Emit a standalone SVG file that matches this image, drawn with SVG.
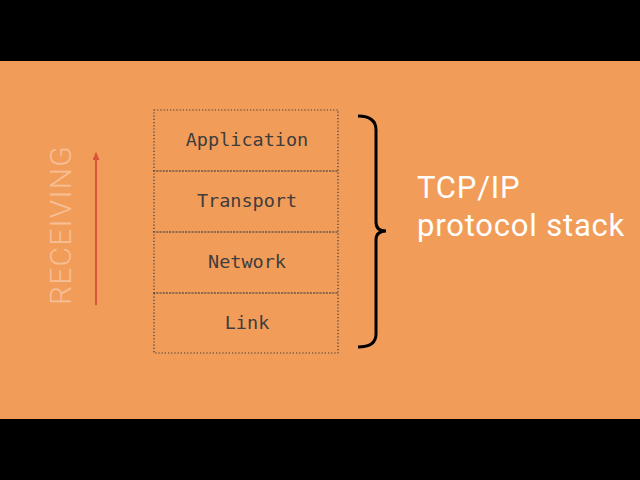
<svg xmlns="http://www.w3.org/2000/svg" width="640" height="480" viewBox="0 0 640 480">
<style>
.box{fill:none;stroke:#3a3a3a;stroke-width:1.2;stroke-dasharray:1.2 2}
.lbl{font-family:"DejaVu Sans Mono",monospace;font-size:18.5px;font-weight:500;fill:#3d3d3d;text-anchor:middle}
.big{font-family:Roboto,"Liberation Sans",sans-serif;font-size:31px;fill:#fff;letter-spacing:0.8px}
</style>
<defs><marker id="ah" markerWidth="8" markerHeight="8" refX="7" refY="3.5" orient="auto" markerUnits="userSpaceOnUse"><path d="M0,0 L8,3.5 L0,7 Z" fill="#d9553a"/></marker></defs>
<rect width="640" height="480" fill="#000"/>
<rect y="61" width="640" height="358" fill="#f29c5a"/>
<g id="application"><rect class="box" x="154" y="110" width="184" height="61"/><text class="lbl" x="247" y="146">Application</text></g>
<g id="transport"><rect class="box" x="154" y="171" width="184" height="61"/><text class="lbl" x="247" y="207">Transport</text></g>
<g id="network"><rect class="box" x="154" y="232" width="184" height="61"/><text class="lbl" x="247" y="268">Network</text></g>
<g id="link"><rect class="box" x="154" y="293" width="184" height="60"/><text class="lbl" x="247" y="329">Link</text></g>
<g id="connectors"><line x1="96" y1="305" x2="96" y2="153" stroke="#d9553a" stroke-width="2" marker-end="url(#ah)"/></g>
<text x="71" y="225" transform="rotate(-90 71 225)" font-family="Roboto,Liberation Sans,sans-serif" font-weight="300" font-size="30" letter-spacing="1.2" fill="#f7bf95" text-anchor="middle">RECEIVING</text>
<path d="M358,116 Q376,116 376,130 L376,222 Q376,231 386,231 Q376,231 376,240 L376,334 Q376,347 358,347" fill="none" stroke="#000" stroke-width="3"/>
<g id="label"><text class="big" x="417" y="198">TCP/IP</text><text class="big" x="417" y="236">protocol stack</text></g>
</svg>
